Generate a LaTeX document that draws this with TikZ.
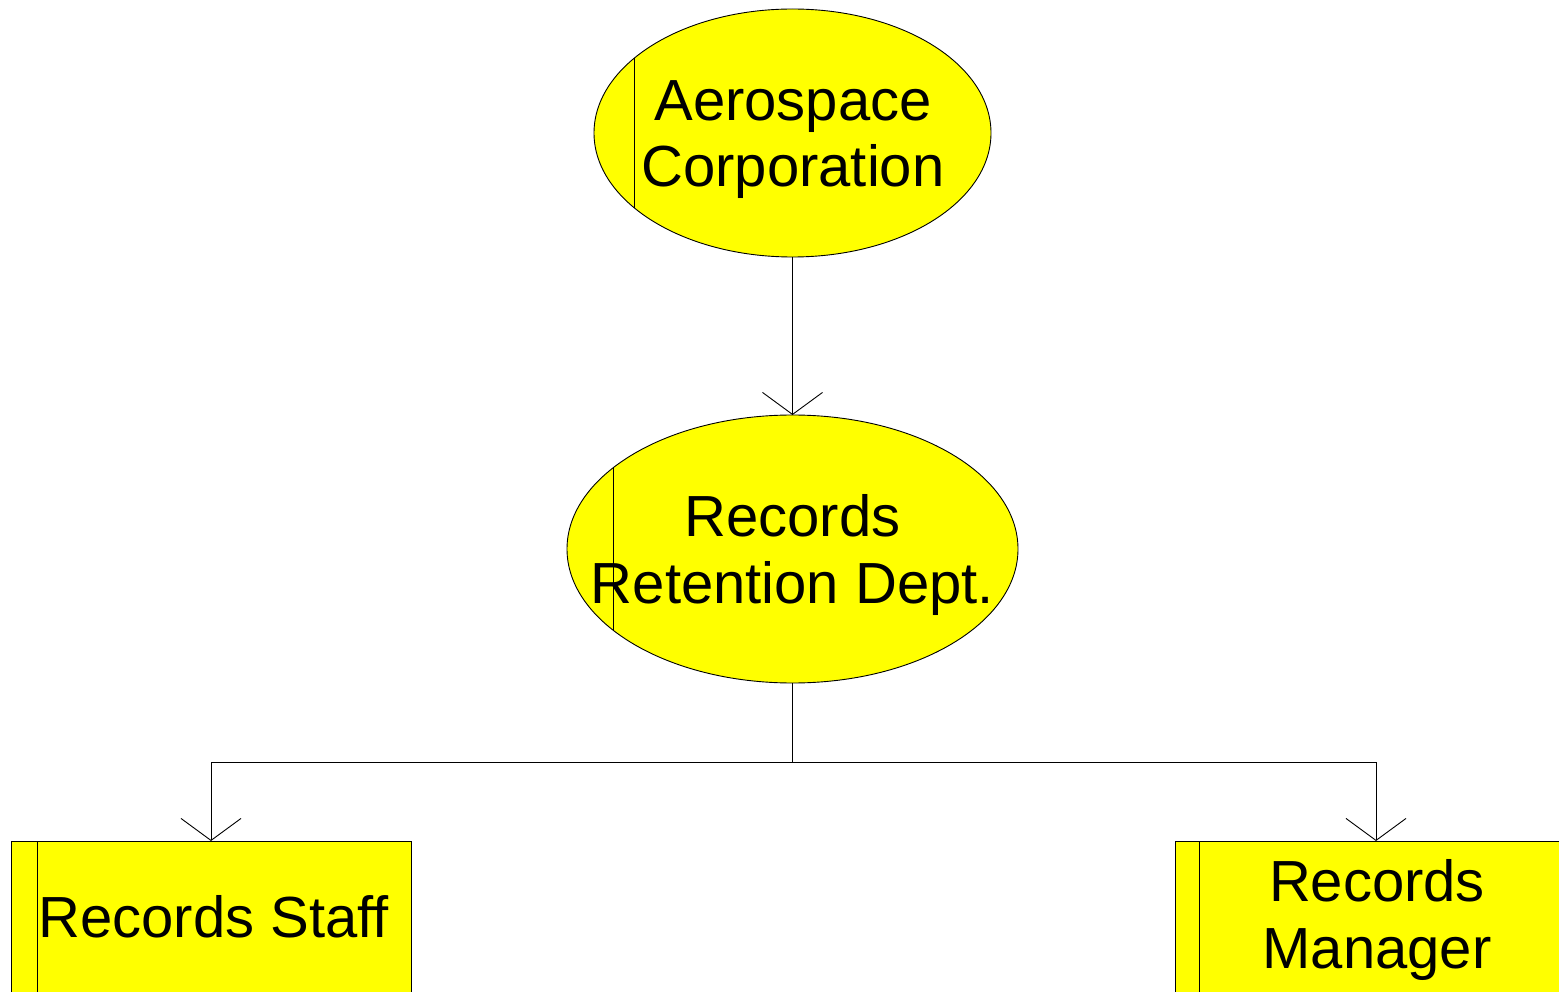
\documentclass[tikz,border=0pt]{standalone}
\usepackage{fontspec}
\setmainfont{Liberation Sans}
\usetikzlibrary{arrows.meta,shapes.geometric}
\definecolor{unitfill}{RGB}{255,255,0}

\tikzset{
  unit/.style={fill=unitfill, draw=black, line width=0.9pt, inner sep=0pt, outer sep=0pt},
  ellunit/.style={unit, ellipse},
  boxunit/.style={unit, rectangle},
  lbl/.style={font=\fontsize{58}{66.5}\selectfont, align=center, inner sep=0pt, anchor=base},
  link/.style={draw=black, line width=0.9pt},
  arr/.style={link, -{Straight Barb[length=22pt, width=60pt, line width=0.9pt]}},
  stripe/.style={draw=black, line width=0.8pt}
}

\begin{document}
\begin{tikzpicture}[x=1pt, y=-1pt]
  \useasboundingbox (0,0) rectangle (1559,992);
  \clip (0,0) rectangle (1559,992);

  % organisation units
  \node[ellunit, minimum width=397pt, minimum height=248pt] (aero) at (792.5,133) {};
  \node[ellunit, minimum width=451pt, minimum height=268pt] (rrd) at (792.5,549) {};
  \node[boxunit, minimum width=400pt, minimum height=320pt, anchor=north] (staff) at (211,841) {};
  \node[boxunit, minimum width=402pt, minimum height=320pt, anchor=north] (mgr) at (1376,841) {};

  % side stripes
  \draw[stripe] (634,58) -- (634,208);
  \draw[stripe] (613,468) -- (613,630);
  \draw[stripe] (37,841) -- (37,1000);
  \draw[stripe] (1199,841) -- (1199,1000);

  % labels (base anchor sits on the last line)
  \node[lbl] (aerotxt) at (793,187) {Aerospace\\Corporation};
  \node[lbl] (rrdtxt) at (792.5,603) {Records\\Retention Dept.};
  \node[lbl] (stafftxt) at (213.5,937) {Records Staff};
  \node[lbl] (mgrtxt) at (1377,968) {Records\\Manager};

  % reporting lines
  \coordinate (bus) at (792.5,762);
  \draw[arr] (aero.south) -- (rrd.north);
  \draw[link] (rrd.south) -- (bus);
  \draw[arr] (bus) -| (staff.north);
  \draw[arr] (bus) -| (mgr.north);
\end{tikzpicture}
\end{document}
